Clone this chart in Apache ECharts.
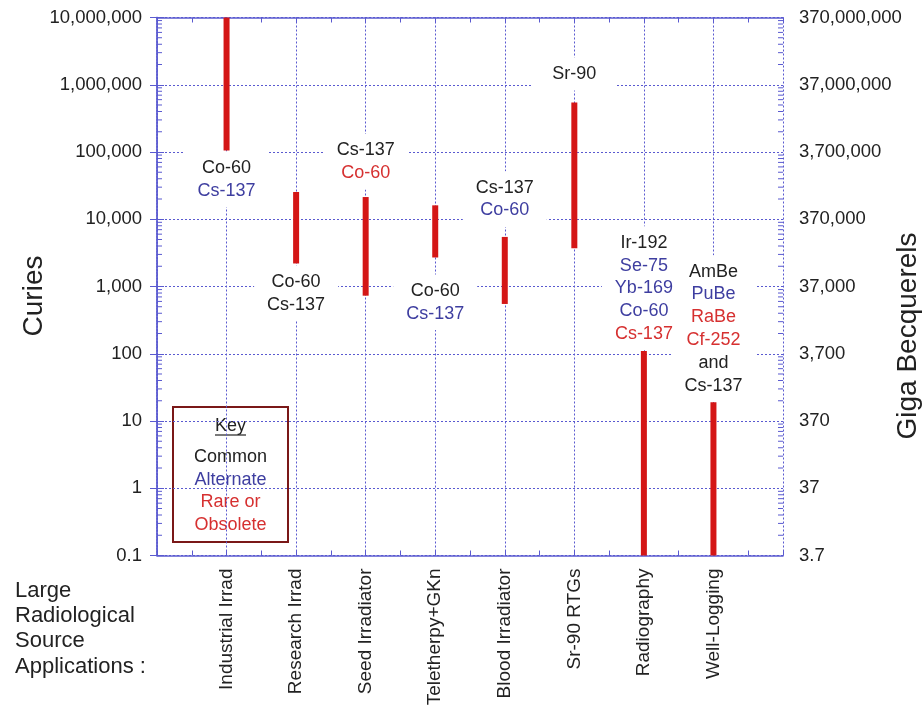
<!DOCTYPE html>
<html>
<head>
<meta charset="utf-8">
<script src="https://cdn.jsdelivr.net/npm/echarts@6/dist/echarts.min.js"></script>
<style>html,body{margin:0;padding:0;background:#fff}#c{width:922px;height:719px}</style>
</head>
<body>
<div id="c"></div>
<script>
// ---------------- data ----------------
const categories = ['Industrial Irrad', 'Research Irrad', 'Seed Irradiator', 'Teletherpy+GKn',
  'Blood Irradiator', 'Sr-90 RTGs', 'Radiography', 'Well-Logging'];
const lowCuries  = [105000, 2200, 730, 2700, 550, 3700, 0.1, 0.1];
const highCuries = [10000000, 25400, 21400, 16100, 5460, 546000, 110, 19];
const curieTickLabels = ['0.1', '1', '10', '100', '1,000', '10,000', '100,000', '1,000,000', '10,000,000'];
const gbqTickLabels = ['3.7', '37', '370', '3,700', '37,000', '370,000', '3,700,000', '37,000,000', '370,000,000'];
const isotopeLines = [
  ['Co-60', 'Cs-137'],
  ['Co-60', 'Cs-137'],
  ['Cs-137', 'Co-60'],
  ['Co-60', 'Cs-137'],
  ['Cs-137', 'Co-60'],
  ['Sr-90'],
  ['Ir-192', 'Se-75', 'Yb-169', 'Co-60', 'Cs-137'],
  ['AmBe', 'PuBe', 'RaBe', 'Cf-252', 'and', 'Cs-137']
];
// c = common, a = alternate, r = rare or obsolete
const isotopeUsage = [
  ['c', 'a'],
  ['c', 'c'],
  ['c', 'r'],
  ['c', 'a'],
  ['c', 'a'],
  ['c'],
  ['c', 'a', 'a', 'a', 'r'],
  ['c', 'a', 'r', 'r', 'c', 'c']
];
const keyLines = ['Common', 'Alternate', 'Rare or', 'Obsolete'];
const keyUsage = ['c', 'a', 'r', 'r'];

// ---------------- layout / style ----------------
const labelSide = ['below', 'below', 'above', 'below', 'above', 'above', 'above', 'above'];
const labelGap = [6, 7, 12.5, 22, 15, 17, 5.6, 5.3];
const FONT = "'Liberation Sans', Arial, Helvetica, sans-serif";
const GRID_COLOR = '#5a5ad0';
const TEXT_COLOR = '#222222';
const BAR_COLOR = '#d41616';
const USAGE_COLOR = { c: '#222222', a: '#3e3ea0', r: '#d63030' };
const LINE_H = 22.8;
const BOX_PAD = 5;
const BOX_W = 84;

function fmtLog(labels) {
  return function (v) {
    const idx = Math.round(Math.log10(v)) + 1;
    return labels[idx] !== undefined ? labels[idx] : '';
  };
}

const minorTickValues = [];
for (let e = -1; e < 7; e++) {
  for (let k = 2; k <= 9; k++) minorTickValues.push([0, k * Math.pow(10, e)]);
}

const gridLineStyle = { color: GRID_COLOR, width: 1, type: [2, 2] };
const frameStyle = { color: GRID_COLOR, width: 1.5, type: [2, 1] };

const rich = {
  c: { fill: USAGE_COLOR.c, fontSize: 18, lineHeight: LINE_H, fontFamily: FONT },
  a: { fill: USAGE_COLOR.a, fontSize: 18, lineHeight: LINE_H, fontFamily: FONT },
  r: { fill: USAGE_COLOR.r, fontSize: 18, lineHeight: LINE_H, fontFamily: FONT }
};

const rangeData = categories.map((c, i) => [i + 1, lowCuries[i], highCuries[i]]);

// anchor of each annotation block: edge of the bar, then offset
function labelAnchor(params, api) {
  const i = params.dataIndex;
  const below = labelSide[i] === 'below';
  const p = api.coord([api.value(0), below ? api.value(1) : api.value(2)]);
  const off = labelGap[i] - BOX_PAD;
  const h = isotopeLines[i].length * LINE_H + 2 * BOX_PAD;
  const top = below ? p[1] + off : p[1] - off - h;
  return { i: i, x: p[0], top: top, h: h };
}

const chart = echarts.init(document.getElementById('c'));
const xAxisCommon = {
  type: 'value', min: 0, max: 9, interval: 1,
  axisTick: { show: true, inside: true, length: 5, lineStyle: { color: GRID_COLOR } },
  minorTick: { show: true, splitNumber: 2, length: 5, lineStyle: { color: GRID_COLOR } }
};
const yAxisCommon = {
  type: 'log', logBase: 10, min: 0.1, max: 1e7, splitNumber: 8,
  axisLine: { show: true, lineStyle: frameStyle },
  axisTick: { show: true, inside: true, length: 7, lineStyle: { color: GRID_COLOR } }
};

chart.setOption({
  animation: false,
  backgroundColor: '#fff',
  textStyle: { fontFamily: FONT },
  grid: { left: 157, right: 139, top: 17.5, bottom: 163.5, containLabel: false, outerBoundsMode: 'none' },
  xAxis: [
    Object.assign({}, xAxisCommon, {
      position: 'bottom',
      axisLine: { show: true, onZero: false, lineStyle: frameStyle },
      splitLine: { show: true, lineStyle: gridLineStyle },
      axisLabel: { rotate: 90, margin: 13, fontSize: 19, color: TEXT_COLOR,
        formatter: v => categories[v - 1] || '' }
    }),
    Object.assign({}, xAxisCommon, {
      position: 'top',
      axisLine: { show: true, onZero: false, lineStyle: frameStyle },
      splitLine: { show: false },
      axisLabel: { show: false }
    })
  ],
  yAxis: [
    Object.assign({}, yAxisCommon, {
      position: 'left',
      splitLine: { show: true, lineStyle: gridLineStyle },
      axisLabel: { margin: 15, fontSize: 18.5, color: TEXT_COLOR, formatter: fmtLog(curieTickLabels) }
    }),
    Object.assign({}, yAxisCommon, {
      position: 'right',
      splitLine: { show: false },
      axisLabel: { margin: 16, fontSize: 18.5, color: TEXT_COLOR, formatter: fmtLog(gbqTickLabels) }
    })
  ],
  series: [
    {
      name: 'minorTicks', type: 'custom', xAxisIndex: 0, yAxisIndex: 0, silent: true, z: 1,
      data: minorTickValues,
      encode: { x: 0, y: 1 },
      renderItem: function (params, api) {
        const cs = params.coordSys;
        const y = api.coord([0, api.value(1)])[1];
        const st = { stroke: GRID_COLOR, lineWidth: 1 };
        return { type: 'group', children: [
          { type: 'line', shape: { x1: cs.x, y1: y, x2: cs.x + 5, y2: y }, style: st },
          { type: 'line', shape: { x1: cs.x + cs.width - 5, y1: y, x2: cs.x + cs.width, y2: y }, style: st }
        ] };
      }
    },
    {
      name: 'labelBoxes', type: 'custom', xAxisIndex: 0, yAxisIndex: 0, silent: true, z: 2,
      data: rangeData,
      encode: { x: 0, y: [1, 2] },
      renderItem: function (params, api) {
        const a = labelAnchor(params, api);
        return { type: 'rect', shape: { x: a.x - BOX_W / 2, y: a.top, width: BOX_W, height: a.h },
          style: { fill: '#ffffff' } };
      }
    },
    {
      name: 'isotopes', type: 'custom', xAxisIndex: 0, yAxisIndex: 0, silent: true, z: 3,
      data: rangeData,
      encode: { x: 0, y: [1, 2] },
      renderItem: function (params, api) {
        const a = labelAnchor(params, api);
        const i = a.i;
        const text = isotopeLines[i].map((t, j) => '{' + isotopeUsage[i][j] + '|' + t + '}').join('\n');
        return {
          type: 'text',
          x: a.x,
          y: a.top + BOX_PAD,
          style: {
            text: text, rich: rich, lineHeight: LINE_H, fontSize: 18, fontFamily: FONT,
            align: 'center', verticalAlign: 'top'
          }
        };
      }
    },
    {
      name: 'Activity range (Curies)', type: 'custom', xAxisIndex: 0, yAxisIndex: 0, z: 4,
      data: rangeData,
      encode: { x: 0, y: [1, 2] },
      renderItem: function (params, api) {
        const lo = api.coord([api.value(0), api.value(1)]);
        const hi = api.coord([api.value(0), api.value(2)]);
        return { type: 'rect', shape: { x: lo[0] - 3, y: hi[1], width: 6, height: lo[1] - hi[1] },
          style: { fill: BAR_COLOR } };
      }
    }
  ],
  graphic: [
    { type: 'text', x: 34, y: 296, rotation: Math.PI / 2,
      style: { text: 'Curies', font: '28px ' + FONT, fill: TEXT_COLOR, align: 'center', verticalAlign: 'middle' } },
    { type: 'text', x: 908, y: 336, rotation: Math.PI / 2,
      style: { text: 'Giga Becquerels', font: '28px ' + FONT, fill: TEXT_COLOR, align: 'center', verticalAlign: 'middle' } },
    { type: 'text', x: 15, y: 578,
      style: { text: 'Large\nRadiological\nSource\nApplications :', font: '22px ' + FONT, lineHeight: 25.3,
        fill: TEXT_COLOR, align: 'left', verticalAlign: 'top' } },
    { type: 'rect', shape: { x: 173, y: 407, width: 115, height: 135 },
      style: { fill: '#ffffff', stroke: '#7a1818', lineWidth: 2 } },
    { type: 'text', x: 230.5, y: 426,
      style: { text: 'Key', font: '18px ' + FONT, fill: TEXT_COLOR, align: 'center', verticalAlign: 'middle' } },
    { type: 'line', shape: { x1: 215, y1: 435, x2: 246, y2: 435 }, style: { stroke: TEXT_COLOR, lineWidth: 1.2 } }
  ].concat(keyLines.map((t, j) => ({
    type: 'text', x: 230.5, y: 457.3 + j * 22.6,
    style: { text: t, font: '18px ' + FONT, fill: USAGE_COLOR[keyUsage[j]], align: 'center', verticalAlign: 'middle' }
  })))
});
</script>
</body>
</html>
